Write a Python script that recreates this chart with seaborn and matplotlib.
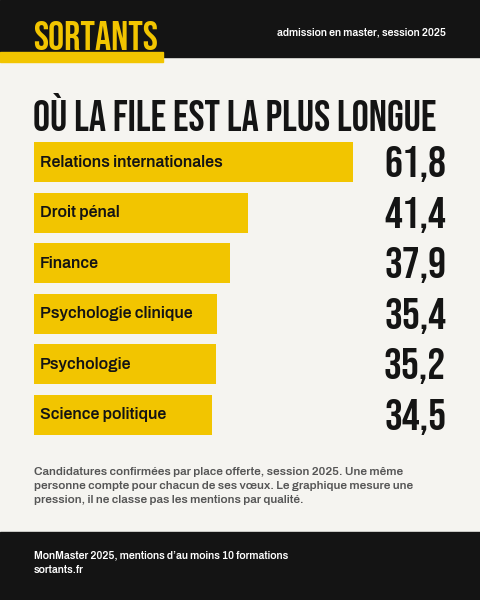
import matplotlib
matplotlib.use("Agg")
import matplotlib.pyplot as plt
import seaborn as sns
import pandas as pd
from matplotlib.patches import Rectangle
import matplotlib.transforms as mt

categories = ["Relations internationales", "Droit pénal", "Finance",
              "Psychologie clinique", "Psychologie", "Science politique"]
values = [61.8, 41.4, 37.9, 35.4, 35.2, 34.5]
labels = ["61,8", "41,4", "37,9", "35,4", "35,2", "34,5"]

HEAD = ["Bebas Neue", "DejaVu Sans"]
BODY = ["Archivo", "DejaVu Sans"]

sns.set_theme(style="white")
plt.rcParams['font.family'] = BODY

BG = "#f5f4f0"; YEL = "#f2c500"; DARK = "#141414"
fig = plt.figure(figsize=(4.8, 6.0), dpi=100, facecolor=BG)

fig.patches.append(Rectangle((0, 1 - 57/600), 1, 57/600, transform=fig.transFigure, color=DARK, zorder=0))
fig.patches.append(Rectangle((0, 1 - 62/600), 163/480, 10/600, transform=fig.transFigure, color=YEL, zorder=1))
fig.patches.append(Rectangle((0, 0), 1, 68/600, transform=fig.transFigure, color=DARK, zorder=0))

fig.text(33/480, 1 - 35/600, "SORTANTS", color=YEL, fontsize=29, family=HEAD, va="center")
fig.text(446/480, 1 - 32/600, "admission en master, session 2025", color="white", fontsize=7.6, fontweight="medium", ha="right", va="center")
fig.text(33/480, 1 - 112/600, "OÙ LA FILE EST LA PLUS LONGUE", color=DARK, fontsize=30.8, family=HEAD, va="center")

ax = fig.add_axes([34/480, 1 - 440/600, 446/480, 303/600])
ax.set_facecolor("none")
df = pd.DataFrame({"cat": categories, "val": values})
sns.barplot(data=df, x="val", y="cat", color=YEL, saturation=1, width=0.79, ax=ax, orient="h", linewidth=0)
ax.set_xlim(0, 446/5.16)
ax.set_ylim(5.5, -0.5)
ax.axis("off")
trans = mt.blended_transform_factory(fig.transFigure, ax.transData)
for i, (c, l) in enumerate(zip(categories, labels)):
    ax.text(1.2, i, c, color=DARK, fontsize=11.5, fontweight="medium", va="center", ha="left")
    ax.text(446/480, i + 0.04, l, transform=trans, color=DARK, fontsize=32, family=HEAD, ha="right", va="center")

fig.text(34/480, 1 - 486/600,
         "Candidatures confirmées par place offerte, session 2025. Une même\n"
         "personne compte pour chacun de ses vœux. Le graphique mesure une\n"
         "pression, il ne classe pas les mentions par qualité.",
         color="#555555", fontsize=8.5, fontweight="medium", va="center", linespacing=1.45)
fig.text(34/480, 1 - 555/600, "MonMaster 2025, mentions d’au moins 10 formations", color="white", fontsize=7.6, fontweight="medium", va="center")
fig.text(34/480, 1 - 570/600, "sortants.fr", color="white", fontsize=7.6, fontweight="medium", va="center")

fig.savefig("out.png", dpi=100, facecolor=BG)
